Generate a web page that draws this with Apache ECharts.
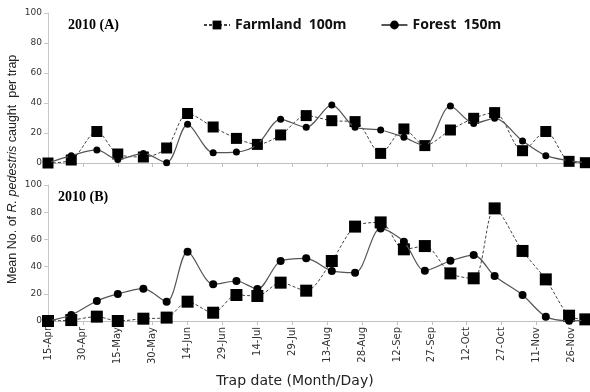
<!DOCTYPE html>
<html>
<head>
<meta charset="utf-8">
<script src="https://cdn.jsdelivr.net/npm/echarts@6/dist/echarts.min.js"></script>
<style>
  html, body { margin: 0; padding: 0; background: #fff; }
  #chart { width: 590px; height: 392px; }
</style>
</head>
<body>
<div id="chart"></div>
<script>
// trap dates, as days after 15 April 2010
var days = [0, 10, 21, 30, 41, 51, 60, 71, 81, 90, 100, 111, 122, 132, 143, 153, 162, 173, 183, 192, 204, 214, 224, 231];

// tick labels every 15 days
var tickLabels = ['15-Apr', '30-Apr', '15-May', '30-May', '14-Jun', '29-Jun', '14-Jul', '29-Jul',
                  '13-Aug', '28-Aug', '12-Sep', '27-Sep', '12-Oct', '27-Oct', '11-Nov', '26-Nov'];

// panel A
var farmA = [0, 2, 21, 6, 4, 10, 33, 24, 16.4, 12.4, 18.7, 31.6, 28.2, 27.6, 6.4, 22.7, 11.6, 22, 29.8, 33.6, 8.2, 21, 1.1, 0.2];
var forestA = [0, 4.9, 8.7, 2.4, 6.4, 0.2, 25.8, 6.9, 7.3, 12.4, 29.1, 23.8, 38.7, 23.8, 22, 17.1, 11.6, 38, 26.4, 29.8, 14.7, 4.9, 1.6, 0.3];

// panel B
var farmB = [0, 0.7, 3.2, 0, 1.7, 2.5, 14.2, 6.1, 19.1, 18.4, 28.2, 22.3, 44.1, 69.4, 72.5, 52.7, 55.1, 35, 31.4, 82.8, 51.5, 30.6, 3.9, 1.2];
var forestB = [0, 4.4, 14.7, 19.9, 23.8, 14.2, 51, 27, 29.4, 23.5, 44.1, 46.1, 36.8, 35.5, 68.1, 58.3, 37, 44.3, 48.5, 33.1, 19.1, 3.2, 0.2, 0.5];

var farmName = 'Farmland  100m',
    forestName = 'Forest  150m';

function pairs(vals){
	var out = [];
	for(var i=0; i<vals.length; i++){
		out.push([days[i], vals[i]]);
	}
	return out;
}

var tickDays = [];
for(var t=0; t<tickLabels.length; t++){
	tickDays.push(t*15);
}

function xAxis(idx, showLabels){
	return {
		type: 'value',
		gridIndex: idx,
		min: 0,
		max: 233,
		splitLine: {show: false},
		axisLine: {lineStyle: {color: '#c0c0c0', width: 1}},
		axisTick: {show: true, length: 4, customValues: tickDays, lineStyle: {color: '#c0c0c0'}},
		axisLabel: {
			show: showLabels,
			customValues: tickDays,
			rotate: 90,
			fontSize: 10,
			color: '#333',
			fontFamily: 'DejaVu Sans',
			margin: 6,
			formatter: function(v){
				var k = Math.round(v/15);
				return tickLabels[k] || '';
			}
		}
	};
}

function yAxis(idx){
	return {
		type: 'value',
		gridIndex: idx,
		min: 0,
		max: 100,
		interval: 20,
		splitLine: {show: false},
		axisLine: {show: true, lineStyle: {color: '#c8c8c8'}},
		axisTick: {show: true, length: 4, lineStyle: {color: '#c8c8c8'}},
		axisLabel: {fontSize: 9, color: '#333', margin: 6, fontFamily: 'DejaVu Sans'}
	};
}

function farmSeries(idx, vals, size){
	return {
		name: farmName,
		type: 'line',
		xAxisIndex: idx,
		yAxisIndex: idx,
		data: pairs(vals),
		smooth: 0.3,
		symbol: 'rect',
		symbolSize: size,
		itemStyle: {color: '#000'},
		lineStyle: {color: '#444', width: 1, type: [3, 2]},
		z: 3
	};
}

function forestSeries(idx, vals, size){
	return {
		name: forestName,
		type: 'line',
		xAxisIndex: idx,
		yAxisIndex: idx,
		data: pairs(vals),
		smooth: 0.3,
		symbol: 'circle',
		symbolSize: size,
		itemStyle: {color: '#000'},
		lineStyle: {color: '#555', width: 1.2},
		z: 4
	};
}

var chart = echarts.init(document.getElementById('chart'));

var option = {
	animation: false,
	backgroundColor: '#fff',
	grid: [
		{left: 48, right: 0, top: 13, height: 150},
		{left: 48, right: 0, top: 185, height: 136}
	],
	legend: {
		top: 13,
		left: 198,
		itemWidth: 26,
		itemHeight: 11,
		itemGap: 34,
		data: [farmName, forestName],
		textStyle: {fontSize: 14, fontWeight: 'bold', color: '#111', fontFamily: 'Noto Sans'}
	},
	xAxis: [xAxis(0, false), xAxis(1, true)],
	yAxis: [yAxis(0), yAxis(1)],
	series: [
		farmSeries(0, farmA, 11),
		forestSeries(0, forestA, 7),
		farmSeries(1, farmB, 12),
		forestSeries(1, forestB, 8)
	],
	graphic: [
		{
			type: 'text', left: 68, top: 18,
			style: {text: '2010 (A)', font: 'bold 14px "Liberation Serif"', fill: '#000'}
		},
		{
			type: 'text', left: 58, top: 190,
			style: {text: '2010 (B)', font: 'bold 14px "Liberation Serif"', fill: '#000'}
		},
		{
			type: 'text',
			x: 6, y: 284,
			rotation: Math.PI/2,
			style: {
				text: '{n|Mean No. of }{i|R. pedestris}{n| caught  per trap}',
				fill: '#222',
				rich: {
					n: {fontSize: 12.5, fontFamily: 'Liberation Sans', fill: '#222'},
					i: {fontSize: 12.5, fontFamily: 'Liberation Sans', fontStyle: 'italic', fill: '#222'}
				}
			}
		},
		{
			type: 'text',
			left: 'center', top: 374,
			style: {text: 'Trap date (Month/Day)', font: '14px "DejaVu Sans"', fill: '#222'}
		}
	]
};

chart.setOption(option);
</script>
</body>
</html>
